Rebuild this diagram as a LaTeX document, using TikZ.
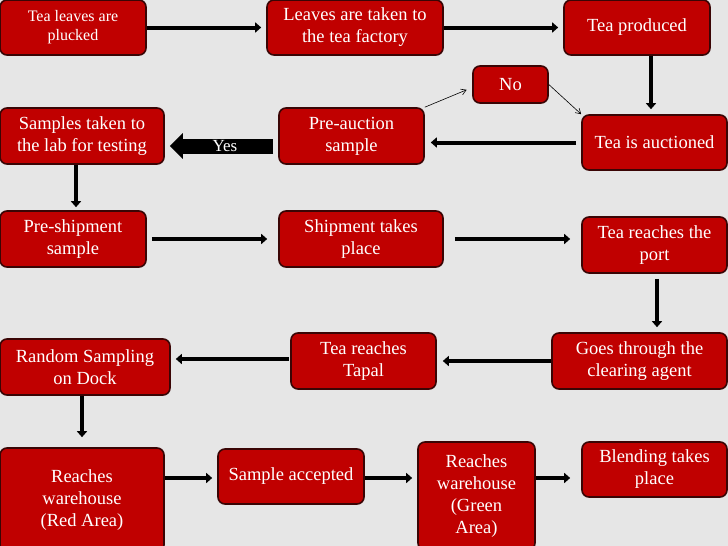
\documentclass[tikz,border=0pt]{standalone}
\usepackage{fontspec}
\setmainfont{Liberation Serif}
\usetikzlibrary{arrows.meta,calc}
\definecolor{bg}{HTML}{E6E6E6}
\definecolor{boxred}{HTML}{C00000}
\definecolor{boxedge}{HTML}{3A0505}
\begin{document}
\begin{tikzpicture}[x=1pt,y=-1pt,
 stepbox/.style={draw=boxedge, fill=boxred, line width=1.6pt, rounded corners=7pt, text=white, align=center, inner sep=0pt, font=\fontsize{18.5}{22}\selectfont},
 flow/.style={line width=4pt, -{Triangle[length=6pt,width=10pt]}},
 thinarrow/.style={line width=0.6pt, -{Straight Barb[length=5pt,width=6pt]}}]
\useasboundingbox (0,0) rectangle (728,546);
\clip (0,0) rectangle (728,546);
\fill[bg] (0,0) rectangle (728,546);

\node[stepbox, minimum width=146pt, minimum height=55pt, font=\fontsize{16}{19}\selectfont] (n1) at (73,27.5) {Tea leaves are\\plucked};
\node[stepbox, minimum width=176pt, minimum height=55pt] (n2) at (355,27.5) {Leaves are taken to\\the tea factory};
\node[stepbox, minimum width=146pt, minimum height=55pt] (n3) at (637,27.5) {Tea produced};
\node[stepbox, minimum width=75pt, minimum height=37pt] (n4) at (510.5,84.5) {No};
\node[stepbox, minimum width=145pt, minimum height=55pt] (n5) at (654.5,142.5) {Tea is auctioned};
\node[stepbox, minimum width=145pt, minimum height=56pt] (n6) at (351.5,136) {Pre-auction\\sample};
\node[stepbox, minimum width=164pt, minimum height=56pt] (n7) at (82,136) {Samples taken to\\the lab for testing};
\node[stepbox, minimum width=146pt, minimum height=56pt] (n8) at (73,239) {Pre-shipment\\sample};
\node[stepbox, minimum width=164pt, minimum height=56pt] (n9) at (361,239) {Shipment takes\\place};
\node[stepbox, minimum width=145pt, minimum height=56pt] (n10) at (654.5,245) {Tea reaches the\\port};
\node[stepbox, minimum width=175pt, minimum height=56pt] (n11) at (639.5,361) {Goes through the\\clearing agent};
\node[stepbox, minimum width=145pt, minimum height=56pt] (n12) at (363.5,361) {Tea reaches\\Tapal};
\node[stepbox, minimum width=170pt, minimum height=56pt] (n13) at (85,367) {Random Sampling\\on Dock};
\node[stepbox, minimum width=164pt, minimum height=104pt] (n14) at (82,500) {Reaches\\warehouse\\(Red Area)};
\node[stepbox, minimum width=146pt, minimum height=55pt] (n15) at (291,476.5) {Sample accepted};
\node[stepbox, minimum width=117pt, minimum height=108pt] (n16) at (476.5,496) {Reaches\\warehouse\\(Green\\Area)};
\node[stepbox, minimum width=145pt, minimum height=55pt] (n17) at (654.5,469.5) {Blending takes\\place};

% connectors
\draw[flow, shorten >=5pt] (n1.east) -- (n2.west);
\draw[flow, shorten >=5pt] (n2.east) -- (n3.west);
\draw[flow, shorten >=5pt] ([xshift=14pt]n3.south) -- ([xshift=14pt]n3.south |- n5.north);
\draw[flow, shorten <=5pt, shorten >=6pt] (n5.west) -- (n5.west -| n6.east);
\draw[thinarrow, shorten >=6pt] (n6.north east) -- ([yshift=-3pt]n4.west);
\draw[thinarrow] (n4.east) -- (n5.north west);
\draw[line width=15pt, -{Triangle[length=13pt,width=25pt]}, shorten <=5pt, shorten >=5pt]
  ([yshift=-10pt]n6.west) -- node[pos=0.47, text=white, font=\fontsize{17}{18}\selectfont] (yes) {Yes} ([yshift=-10pt]n7.east);
\draw[flow, shorten >=3pt] ([xshift=-6pt]n7.south) -- ([xshift=-6pt]n7.south |- n8.north);
\draw[flow, shorten <=5pt, shorten >=11pt] (n8.east) -- (n8.east -| n9.west);
\draw[flow, shorten <=11pt, shorten >=11pt] (n9.east) -- (n9.east -| n10.west);
\draw[flow, shorten <=5pt, shorten >=5pt] ([xshift=2.5pt]n10.south) -- ([xshift=2.5pt]n10.south |- n11.north);
\draw[flow, shorten >=6pt] (n11.west) -- (n11.west -| n12.east);
\draw[flow, shorten <=1pt, shorten >=5pt] ([yshift=2pt]n12.west) -- ([yshift=2pt]n12.west -| n13.east);
\draw[flow, shorten >=10pt] (n14.north |- n13.south) -- (n14.north);
\draw[flow, shorten >=5pt] ([yshift=-1.5pt]n15.west -| n14.east) -- ([yshift=-1.5pt]n15.west);
\draw[flow, shorten >=5pt] ([yshift=-1.5pt]n15.east) -- ([yshift=-1.5pt]n15.east -| n16.west);
\draw[flow, shorten >=11pt] ([yshift=-1.5pt]n15.east -| n16.east) -- ([yshift=-1.5pt]n15.east -| n17.west);
\end{tikzpicture}
\end{document}
